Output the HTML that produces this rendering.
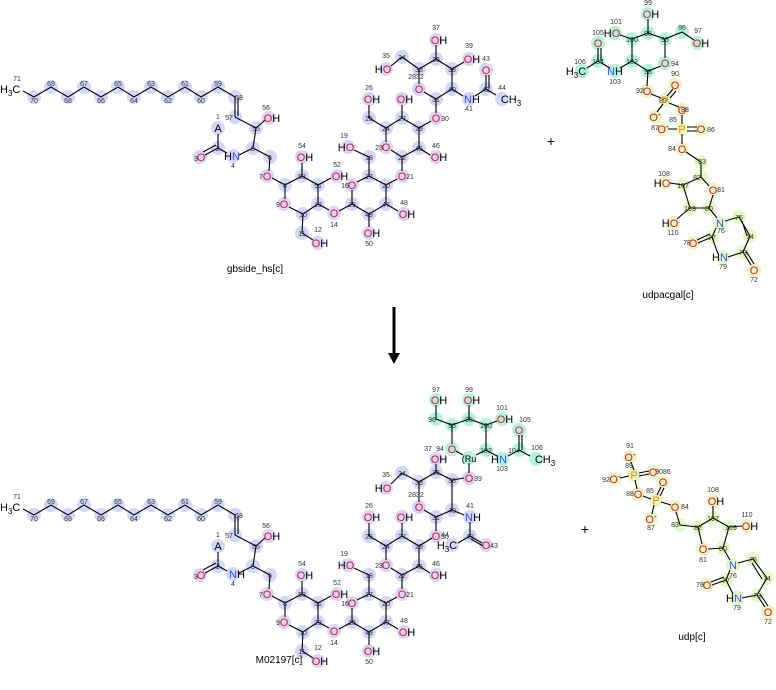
<!DOCTYPE html>
<html><head><meta charset="utf-8"><style>
html,body{margin:0;padding:0;background:#fff;}
svg{display:block;font-family:"Liberation Sans","DejaVu Sans",sans-serif;}
.b{fill:none;stroke:#000;stroke-width:1.1;}
.n{font-size:7px;fill:#333;text-anchor:middle;}
.e{font-size:11px;text-anchor:middle;}
.o{fill:#e8102a;} .N{fill:#3050f8;} .P{fill:#ff8000;} .k{fill:#000;}
.pu circle{fill:#d6d6fb;} .gr circle{fill:#b2f5dd;} .ye circle{fill:#e6f8c4;}
</style></head><body>
<svg width="776" height="690" viewBox="0 0 776 690" xmlns="http://www.w3.org/2000/svg">

<!-- ============ TOP gbside lower part (also copied to bottom) ============ -->
<g id="lowA">
<g class="pu">
<circle cx="34" cy="97" r="7"/><circle cx="51" cy="87" r="7"/><circle cx="68" cy="97" r="7"/><circle cx="84" cy="87" r="7"/><circle cx="101" cy="97" r="7"/><circle cx="118" cy="87" r="7"/><circle cx="134" cy="97" r="7"/><circle cx="151" cy="87" r="7"/><circle cx="168" cy="97" r="7"/><circle cx="185" cy="87" r="7"/><circle cx="201" cy="97" r="7"/><circle cx="218" cy="87" r="7"/><circle cx="235" cy="97" r="7"/><circle cx="235" cy="117" r="7"/>
<circle cx="256" cy="128" r="7"/><circle cx="269" cy="118" r="7"/><circle cx="253" cy="148" r="7"/><circle cx="233" cy="156" r="7"/><circle cx="218" cy="148" r="7"/><circle cx="218" cy="128" r="7"/><circle cx="200" cy="157" r="7"/><circle cx="270" cy="157" r="7"/><circle cx="267" cy="176" r="7"/><circle cx="285" cy="185" r="7"/><circle cx="284" cy="204" r="7"/><circle cx="303" cy="214" r="7"/><circle cx="302" cy="233" r="7"/><circle cx="318" cy="243" r="7"/><circle cx="318" cy="204" r="7"/><circle cx="318" cy="185" r="7"/><circle cx="337" cy="176" r="7"/><circle cx="302" cy="176" r="7"/><circle cx="302" cy="157" r="7"/><circle cx="334" cy="213" r="7"/><circle cx="352" cy="204" r="7"/><circle cx="352" cy="185" r="7"/><circle cx="369" cy="176" r="7"/><circle cx="369" cy="157" r="7"/><circle cx="348" cy="147" r="7"/><circle cx="386" cy="185" r="7"/><circle cx="369" cy="214" r="7"/><circle cx="369" cy="233" r="7"/><circle cx="386" cy="204" r="7"/><circle cx="404" cy="214" r="7"/><circle cx="402" cy="176" r="7"/><circle cx="402" cy="157" r="7"/><circle cx="386" cy="147" r="7"/><circle cx="386" cy="128" r="7"/><circle cx="369" cy="118" r="7"/><circle cx="369" cy="99" r="7"/><circle cx="402" cy="118" r="7"/><circle cx="402" cy="99" r="7"/><circle cx="419" cy="128" r="7"/><circle cx="419" cy="148" r="7"/><circle cx="436" cy="157" r="7"/>
</g>
<path class="b" d="M23 91 L34 97 L51 87 L68 97 L84 87 L101 97 L118 87 L134 97 L151 87 L168 97 L185 87 L201 97 L218 87 L235 97 L235 117 M238 98 L238 116 M235 117 L256 128 L265 120 M256 128 L253 148 L239 155 M227 153 L218 148 L218 134 M218 148 L205 155 M216 145 L203 152 M253 148 L270 157 L269 171 M272 178 L285 185 L285 199 M289 207 L303 214 L302 233 L313 240 M303 214 L318 204 L318 185 L302 176 L285 185 M318 185 L331 178 M302 176 L302 163 M318 204 L329 210 M339 211 L352 204 L352 190 M357 182 L369 176 L369 157 L354 150 M369 176 L386 185 L386 204 L369 214 L352 204 M386 204 L398 211 M369 214 L369 227 M386 185 L397 179 M402 171 L402 157 L391 150 M386 142 L386 128 L369 118 L369 105 M386 128 L402 118 L402 105 M402 118 L419 128 L419 148 L402 157 M419 148 L430 155"/>
<text x="0" y="93" font-size="11" class="k">H<tspan font-size="8" dy="3">3</tspan><tspan dy="-3">C</tspan></text>
<g class="n">
<text x="17" y="81">71</text><text x="34" y="103">70</text><text x="51" y="86">69</text><text x="68" y="103">68</text><text x="84" y="86">67</text><text x="101" y="103">66</text><text x="118" y="86">65</text><text x="134" y="103">64</text><text x="151" y="86">63</text><text x="168" y="103">62</text><text x="185" y="86">61</text><text x="201" y="103">60</text><text x="218" y="86">59</text><text x="239" y="100">58</text><text x="229" y="120">57</text><text x="256" y="131">55</text><text x="266" y="110">56</text><text x="253" y="151">5</text><text x="233" y="168">4</text><text x="218" y="151">2</text><text x="218" y="119">1</text><text x="270" y="160">6</text><text x="285" y="188">8</text><text x="303" y="217">10</text><text x="302" y="236">11</text><text x="318" y="232">12</text><text x="318" y="207">13</text><text x="318" y="188">51</text><text x="337" y="167">52</text><text x="302" y="179">53</text><text x="302" y="148">54</text><text x="334" y="227">14</text><text x="352" y="207">15</text><text x="369" y="179">17</text><text x="369" y="160">18</text><text x="344" y="138">19</text><text x="386" y="188">20</text><text x="369" y="217">49</text><text x="369" y="246">50</text><text x="386" y="207">47</text><text x="404" y="205">48</text><text x="386" y="131">24</text><text x="369" y="121">25</text><text x="369" y="90">26</text><text x="402" y="121">27</text><text x="419" y="131">29</text><text x="419" y="151">45</text><text x="436" y="148">46</text><text x="402" y="160">22</text>
</g>
<g class="e">
<text x="218" y="132" class="k">A</text>
<text x="201" y="161" class="o">O</text><text x="196" y="161" class="n" style="font-size:7px">3</text>
<text x="232" y="160"><tspan class="k">H</tspan><tspan class="N">N</tspan></text>
<text x="272" y="122"><tspan class="o">O</tspan><tspan class="k">H</tspan></text>
<text x="267" y="180" class="o">O</text><text x="261" y="179" class="n">7</text>
<text x="284" y="208" class="o">O</text><text x="278" y="207" class="n">9</text>
<text x="320" y="247"><tspan class="o">O</tspan><tspan class="k">H</tspan></text>
<text x="340" y="180"><tspan class="o">O</tspan><tspan class="k">H</tspan></text>
<text x="305" y="161"><tspan class="o">O</tspan><tspan class="k">H</tspan></text>
<text x="334" y="217" class="o">O</text>
<text x="352" y="189" class="o">O</text><text x="345" y="188" class="n">16</text>
<text x="346" y="151"><tspan class="k">H</tspan><tspan class="o">O</tspan></text>
<text x="407" y="218"><tspan class="o">O</tspan><tspan class="k">H</tspan></text>
<text x="372" y="237"><tspan class="o">O</tspan><tspan class="k">H</tspan></text>
<text x="402" y="180" class="o">O</text><text x="410" y="179" class="n">21</text>
<text x="386" y="151" class="o">O</text><text x="379" y="150" class="n">23</text>
<text x="372" y="103"><tspan class="o">O</tspan><tspan class="k">H</tspan></text>
<text x="405" y="103"><tspan class="o">O</tspan><tspan class="k">H</tspan></text>
<text x="439" y="161"><tspan class="o">O</tspan><tspan class="k">H</tspan></text>
</g>
</g>

<!-- top gbside upper part -->
<g class="pu"><circle cx="436" cy="118" r="7"/><circle cx="436" cy="99" r="7"/><circle cx="419" cy="89" r="7"/><circle cx="419" cy="69" r="7"/><circle cx="402" cy="57" r="7"/><circle cx="386" cy="69" r="7"/><circle cx="436" cy="59" r="7"/><circle cx="436" cy="40" r="7"/><circle cx="452" cy="69" r="7"/><circle cx="469" cy="59" r="7"/><circle cx="452" cy="89" r="7"/><circle cx="469" cy="99" r="7"/><circle cx="486" cy="89" r="7"/><circle cx="486" cy="70" r="7"/><circle cx="502" cy="99" r="7"/></g>
<path class="b" d="M419 128 L431 121 M436 113 L436 99 L424 92 M419 84 L419 69 L402 57 L391 66 M419 69 L436 59 L436 45 M436 59 L452 69 L464 62 M452 69 L452 89 L436 99 M452 89 L463 96 M475 96 L486 89 L486 75 M489 89 L489 75 M486 89 L496 95"/>
<g class="n"><text x="436" y="102">31</text><text x="416" y="79">2832</text><text x="419" y="72">33</text><text x="402" y="60">34</text><text x="386" y="58">35</text><text x="436" y="62">36</text><text x="436" y="30">37</text><text x="452" y="72">38</text><text x="469" y="48">39</text><text x="452" y="92">40</text><text x="469" y="111">41</text><text x="486" y="92">42</text><text x="486" y="61">43</text><text x="502" y="90">44</text></g>
<g class="e">
<text x="436" y="122" class="o">O</text><text x="445" y="121" class="n">30</text>
<text x="419" y="93" class="o">O</text>
<text x="383" y="73"><tspan class="k">H</tspan><tspan class="o">O</tspan></text>
<text x="439" y="44"><tspan class="o">O</tspan><tspan class="k">H</tspan></text>
<text x="472" y="63"><tspan class="o">O</tspan><tspan class="k">H</tspan></text>
<text x="472" y="103"><tspan class="N">N</tspan><tspan class="k">H</tspan></text>
<text x="486" y="74" class="o">O</text>
<text x="511" y="103" class="k">CH<tspan font-size="8" dy="3">3</tspan></text>
</g>
<text x="255" y="272" font-size="10" text-anchor="middle">gbside_hs[c]</text>

<!-- plus and arrow -->
<text x="551" y="146" font-size="14" text-anchor="middle">+</text>
<text x="585" y="534" font-size="14" text-anchor="middle">+</text>
<line x1="394" y1="307" x2="394" y2="355" stroke="#000" stroke-width="3"/>
<polygon points="388,353 400,353 394,364" fill="#000"/>

<!-- ============ udpacgal ============ -->
<g class="gr"><circle cx="648" cy="14" r="7"/><circle cx="648" cy="33" r="7"/><circle cx="615" cy="33" r="7"/><circle cx="632" cy="39" r="7"/><circle cx="665" cy="39" r="7"/><circle cx="682" cy="32" r="7"/><circle cx="698" cy="43" r="7"/><circle cx="665" cy="63" r="7"/><circle cx="648" cy="71" r="7"/><circle cx="632" cy="61" r="7"/><circle cx="615" cy="71" r="7"/><circle cx="598" cy="61" r="7"/><circle cx="598" cy="43" r="7"/><circle cx="582" cy="71" r="7"/></g>
<g class="ye"><circle cx="647" cy="91" r="7"/><circle cx="665" cy="100" r="7"/><circle cx="675" cy="85" r="7"/><circle cx="655" cy="117" r="7"/><circle cx="682" cy="110" r="7"/><circle cx="682" cy="129" r="7"/><circle cx="663" cy="129" r="7"/><circle cx="701" cy="129" r="7"/><circle cx="682" cy="149" r="7"/><circle cx="701" cy="162" r="7"/><circle cx="701" cy="177" r="7"/><circle cx="713" cy="190" r="7"/><circle cx="709" cy="208" r="7"/><circle cx="690" cy="208" r="7"/><circle cx="683" cy="185" r="7"/><circle cx="665" cy="183" r="7"/><circle cx="673" cy="223" r="7"/><circle cx="720" cy="223" r="7"/><circle cx="739" cy="217" r="7"/><circle cx="750" cy="236" r="7"/><circle cx="743" cy="252" r="7"/><circle cx="754" cy="270" r="7"/><circle cx="723" cy="257" r="7"/><circle cx="712" cy="237" r="7"/><circle cx="693" cy="243" r="7"/></g>
<path class="b" d="M648 19 L648 33 L632 39 L620 35 M648 33 L665 39 L682 32 L694 40 M665 39 L665 58 M661 66 L648 71 L632 61 L632 39 M632 61 L620 68 M610 68 L598 61 L598 48 M601 61 L601 48 M598 61 L587 68 M648 71 L647 86 M651 94 L661 98 M667 96 L673 89 M670 98 L676 91 M663 104 L657 112 M669 103 L679 107 M682 115 L682 124 M677 129 L668 129 M687 127 L697 127 M687 131 L697 131 M682 134 L682 144 M686 152 L701 162 L701 177 L709 186 M713 195 L709 208 L690 208 L683 185 L701 177 M683 185 L670 183 M690 208 L677 219 M709 208 L717 218 M725 221 L739 217 L750 236 L743 252 M742 221 L747 236 M743 252 L751 265 M746 251 L754 264 M743 252 L728 257 M718 254 L712 237 L716 228 M712 237 L698 243 M710 234 L697 240"/>
<g class="n"><text x="648" y="5">99</text><text x="648" y="36">98</text><text x="616" y="24">101</text><text x="632" y="42">100</text><text x="665" y="42">95</text><text x="682" y="30">96</text><text x="698" y="33">97</text><text x="675" y="66">94</text><text x="648" y="74">93</text><text x="632" y="64">102</text><text x="615" y="84">103</text><text x="598" y="64">104</text><text x="598" y="35">105</text><text x="580" y="64">106</text><text x="640" y="93">92</text><text x="675" y="76">90</text><text x="663" y="103">89</text><text x="685" y="112">88</text><text x="673" y="122">85</text><text x="655" y="130">87</text><text x="711" y="132">86</text><text x="672" y="151">84</text><text x="702" y="164">83</text><text x="697" y="180">82</text><text x="721" y="192">81</text><text x="709" y="211">80</text><text x="690" y="211">109</text><text x="683" y="188">107</text><text x="664" y="176">108</text><text x="673" y="235">110</text><text x="721" y="233">76</text><text x="739" y="220">75</text><text x="750" y="239">74</text><text x="743" y="255">73</text><text x="754" y="282">72</text><text x="723" y="269">79</text><text x="712" y="240">77</text><text x="687" y="245">78</text></g>
<g class="e">
<text x="651" y="18"><tspan class="o">O</tspan><tspan class="k">H</tspan></text>
<text x="612" y="37"><tspan class="k">H</tspan><tspan class="o">O</tspan></text>
<text x="701" y="47"><tspan class="o">O</tspan><tspan class="k">H</tspan></text>
<text x="665" y="67" class="o">O</text>
<text x="615" y="75"><tspan class="N">N</tspan><tspan class="k">H</tspan></text>
<text x="598" y="47" class="o">O</text>
<text x="576" y="75" class="k">H<tspan font-size="8" dy="3">3</tspan><tspan dy="-3">C</tspan></text>
<text x="647" y="95" class="o">O</text>
<text x="665" y="104" class="P">P</text>
<text x="675" y="89" class="o">O</text>
<text x="655" y="121" class="o">O<tspan font-size="8" dy="-4" class="k">-</tspan></text>
<text x="682" y="114" class="o">O</text>
<text x="682" y="133" class="P">P</text>
<text x="663" y="133" class="o">O<tspan font-size="8" dy="-4" class="k">-</tspan></text>
<text x="701" y="133" class="o">O</text>
<text x="682" y="153" class="o">O</text>
<text x="713" y="194" class="o">O</text>
<text x="662" y="187"><tspan class="k">H</tspan><tspan class="o">O</tspan></text>
<text x="670" y="227"><tspan class="k">H</tspan><tspan class="o">O</tspan></text>
<text x="720" y="227" class="N">N</text>
<text x="754" y="274" class="o">O</text>
<text x="720" y="261"><tspan class="k">H</tspan><tspan class="N">N</tspan></text>
<text x="693" y="247" class="o">O</text>
</g>
<text x="668" y="298" font-size="10" text-anchor="middle">udpacgal[c]</text>

<!-- ============ bottom M02197 ============ -->
<g transform="translate(0,418)">
<g class="pu">
<circle cx="34" cy="97" r="7"/><circle cx="51" cy="87" r="7"/><circle cx="68" cy="97" r="7"/><circle cx="84" cy="87" r="7"/><circle cx="101" cy="97" r="7"/><circle cx="118" cy="87" r="7"/><circle cx="134" cy="97" r="7"/><circle cx="151" cy="87" r="7"/><circle cx="168" cy="97" r="7"/><circle cx="185" cy="87" r="7"/><circle cx="201" cy="97" r="7"/><circle cx="218" cy="87" r="7"/><circle cx="235" cy="97" r="7"/><circle cx="235" cy="117" r="7"/>
<circle cx="256" cy="128" r="7"/><circle cx="269" cy="118" r="7"/><circle cx="253" cy="148" r="7"/><circle cx="233" cy="156" r="7"/><circle cx="218" cy="148" r="7"/><circle cx="218" cy="128" r="7"/><circle cx="200" cy="157" r="7"/><circle cx="270" cy="157" r="7"/><circle cx="267" cy="176" r="7"/><circle cx="285" cy="185" r="7"/><circle cx="284" cy="204" r="7"/><circle cx="303" cy="214" r="7"/><circle cx="302" cy="233" r="7"/><circle cx="318" cy="243" r="7"/><circle cx="318" cy="204" r="7"/><circle cx="318" cy="185" r="7"/><circle cx="337" cy="176" r="7"/><circle cx="302" cy="176" r="7"/><circle cx="302" cy="157" r="7"/><circle cx="334" cy="213" r="7"/><circle cx="352" cy="204" r="7"/><circle cx="352" cy="185" r="7"/><circle cx="369" cy="176" r="7"/><circle cx="369" cy="157" r="7"/><circle cx="348" cy="147" r="7"/><circle cx="386" cy="185" r="7"/><circle cx="369" cy="214" r="7"/><circle cx="369" cy="233" r="7"/><circle cx="386" cy="204" r="7"/><circle cx="404" cy="214" r="7"/><circle cx="402" cy="176" r="7"/><circle cx="402" cy="157" r="7"/><circle cx="386" cy="147" r="7"/><circle cx="386" cy="128" r="7"/><circle cx="369" cy="118" r="7"/><circle cx="369" cy="99" r="7"/><circle cx="402" cy="118" r="7"/><circle cx="402" cy="99" r="7"/><circle cx="419" cy="128" r="7"/><circle cx="419" cy="148" r="7"/><circle cx="436" cy="157" r="7"/>
</g>
<path class="b" d="M23 91 L34 97 L51 87 L68 97 L84 87 L101 97 L118 87 L134 97 L151 87 L168 97 L185 87 L201 97 L218 87 L235 97 L235 117 M238 98 L238 116 M235 117 L256 128 L265 120 M256 128 L253 148 L239 155 M227 153 L218 148 L218 134 M218 148 L205 155 M216 145 L203 152 M253 148 L270 157 L269 171 M272 178 L285 185 L285 199 M289 207 L303 214 L302 233 L313 240 M303 214 L318 204 L318 185 L302 176 L285 185 M318 185 L331 178 M302 176 L302 163 M318 204 L329 210 M339 211 L352 204 L352 190 M357 182 L369 176 L369 157 L354 150 M369 176 L386 185 L386 204 L369 214 L352 204 M386 204 L398 211 M369 214 L369 227 M386 185 L397 179 M402 171 L402 157 L391 150 M386 142 L386 128 L369 118 L369 105 M386 128 L402 118 L402 105 M402 118 L419 128 L419 148 L402 157 M419 148 L430 155"/>
<text x="0" y="93" font-size="11" class="k">H<tspan font-size="8" dy="3">3</tspan><tspan dy="-3">C</tspan></text>
<g class="n">
<text x="17" y="81">71</text><text x="34" y="103">70</text><text x="51" y="86">69</text><text x="68" y="103">68</text><text x="84" y="86">67</text><text x="101" y="103">66</text><text x="118" y="86">65</text><text x="134" y="103">64</text><text x="151" y="86">63</text><text x="168" y="103">62</text><text x="185" y="86">61</text><text x="201" y="103">60</text><text x="218" y="86">59</text><text x="239" y="100">58</text><text x="229" y="120">57</text><text x="256" y="131">55</text><text x="266" y="110">56</text><text x="253" y="151">5</text><text x="233" y="168">4</text><text x="218" y="151">2</text><text x="218" y="119">1</text><text x="270" y="160">6</text><text x="285" y="188">8</text><text x="303" y="217">10</text><text x="302" y="236">11</text><text x="318" y="232">12</text><text x="318" y="207">13</text><text x="318" y="188">51</text><text x="337" y="167">52</text><text x="302" y="179">53</text><text x="302" y="148">54</text><text x="334" y="227">14</text><text x="352" y="207">15</text><text x="369" y="179">17</text><text x="369" y="160">18</text><text x="344" y="138">19</text><text x="386" y="188">20</text><text x="369" y="217">49</text><text x="369" y="246">50</text><text x="386" y="207">47</text><text x="404" y="205">48</text><text x="386" y="131">24</text><text x="369" y="121">25</text><text x="369" y="90">26</text><text x="402" y="121">27</text><text x="419" y="131">29</text><text x="419" y="151">45</text><text x="436" y="148">46</text><text x="402" y="160">22</text>
</g>
<g class="e">
<text x="218" y="132" class="k">A</text>
<text x="201" y="161" class="o">O</text><text x="196" y="161" class="n">3</text>
<text x="237" y="160"><tspan class="N">N</tspan><tspan class="k">H</tspan></text>
<text x="272" y="122"><tspan class="o">O</tspan><tspan class="k">H</tspan></text>
<text x="267" y="180" class="o">O</text><text x="261" y="179" class="n">7</text>
<text x="284" y="208" class="o">O</text><text x="278" y="207" class="n">9</text>
<text x="320" y="247"><tspan class="o">O</tspan><tspan class="k">H</tspan></text>
<text x="340" y="180"><tspan class="o">O</tspan><tspan class="k">H</tspan></text>
<text x="305" y="161"><tspan class="o">O</tspan><tspan class="k">H</tspan></text>
<text x="334" y="217" class="o">O</text>
<text x="352" y="189" class="o">O</text><text x="345" y="188" class="n">16</text>
<text x="346" y="151"><tspan class="k">H</tspan><tspan class="o">O</tspan></text>
<text x="407" y="218"><tspan class="o">O</tspan><tspan class="k">H</tspan></text>
<text x="372" y="237"><tspan class="o">O</tspan><tspan class="k">H</tspan></text>
<text x="402" y="180" class="o">O</text><text x="410" y="179" class="n">21</text>
<text x="386" y="151" class="o">O</text><text x="379" y="150" class="n">23</text>
<text x="372" y="103"><tspan class="o">O</tspan><tspan class="k">H</tspan></text>
<text x="405" y="103"><tspan class="o">O</tspan><tspan class="k">H</tspan></text>
<text x="439" y="161"><tspan class="o">O</tspan><tspan class="k">H</tspan></text>
</g>
</g>

<!-- bottom upper part -->
<g class="pu"><circle cx="436" cy="536" r="7"/><circle cx="436" cy="517" r="7"/><circle cx="419" cy="507" r="7"/><circle cx="419" cy="482" r="7"/><circle cx="402" cy="473" r="7"/><circle cx="386" cy="488" r="7"/><circle cx="436" cy="472" r="7"/><circle cx="436" cy="459" r="7"/><circle cx="452" cy="480" r="7"/><circle cx="469" cy="478" r="7"/><circle cx="452" cy="510" r="7"/><circle cx="470" cy="517" r="7"/><circle cx="470" cy="536" r="7"/><circle cx="486" cy="545" r="7"/><circle cx="452" cy="545" r="7"/></g>
<g class="gr"><circle cx="469" cy="458" r="7"/><circle cx="452" cy="449" r="7"/><circle cx="452" cy="425" r="7"/><circle cx="436" cy="419" r="7"/><circle cx="436" cy="400" r="7"/><circle cx="469" cy="419" r="7"/><circle cx="469" cy="400" r="7"/><circle cx="486" cy="425" r="7"/><circle cx="502" cy="419" r="7"/><circle cx="486" cy="450" r="7"/><circle cx="502" cy="459" r="7"/><circle cx="519" cy="450" r="7"/><circle cx="519" cy="430" r="7"/><circle cx="536" cy="459" r="7"/></g>
<path class="b" d="M419 546 L432 538 M436 531 L436 517 L424 510 M419 502 L419 482 L402 473 L391 484 M419 482 L436 472 L436 464 M436 472 L452 480 L464 478 M452 480 L452 510 L436 517 M452 510 L464 515 M470 522 L470 536 L482 543 M471 539 L483 546 M470 536 L458 543 M469 473 L469 463 M463 455 L456 451 M476 455 L486 450 M452 444 L452 425 L436 419 L436 405 M452 425 L469 419 L469 405 M469 419 L486 425 L497 421 M486 425 L486 450 L497 456 M508 456 L519 450 L519 435 M522 450 L522 435 M519 450 L530 456"/>
<g class="n"><text x="436" y="520">31</text><text x="416" y="497">2832</text><text x="419" y="485">33</text><text x="402" y="476">34</text><text x="386" y="477">35</text><text x="436" y="475">36</text><text x="428" y="451">37</text><text x="452" y="483">38</text><text x="478" y="481">39</text><text x="452" y="513">40</text><text x="470" y="508">41</text><text x="470" y="539">42</text><text x="494" y="548">43</text><text x="445" y="537">44</text><text x="440" y="451">94</text><text x="452" y="428">95</text><text x="432" y="422">96</text><text x="436" y="392">97</text><text x="469" y="422">98</text><text x="469" y="392">99</text><text x="486" y="428">100</text><text x="502" y="410">101</text><text x="486" y="453">102</text><text x="502" y="471">103</text><text x="514" y="453">104</text><text x="525" y="422">105</text><text x="537" y="450">106</text></g>
<g class="e">
<text x="436" y="540" class="o">O</text><text x="445" y="539" class="n">30</text>
<text x="419" y="386" class="o" dy="125">O</text>
<text x="383" y="492"><tspan class="k">H</tspan><tspan class="o">O</tspan></text>
<text x="439" y="463"><tspan class="o">O</tspan><tspan class="k">H</tspan></text>
<text x="469" y="482" class="o">O</text>
<text x="473" y="521"><tspan class="N">N</tspan><tspan class="k">H</tspan></text>
<text x="486" y="549" class="o">O</text>
<text x="447" y="549" class="k">H<tspan font-size="8" dy="3">3</tspan><tspan dy="-3">C</tspan></text>
<text x="469" y="462" class="k" font-size="9">(Ru</text>
<text x="452" y="453" class="o">O</text>
<text x="439" y="404"><tspan class="o">O</tspan><tspan class="k">H</tspan></text>
<text x="472" y="404"><tspan class="o">O</tspan><tspan class="k">H</tspan></text>
<text x="505" y="423"><tspan class="o">O</tspan><tspan class="k">H</tspan></text>
<text x="499" y="463"><tspan class="k">H</tspan><tspan class="N">N</tspan></text>
<text x="519" y="434" class="o">O</text>
<text x="545" y="463" class="k">CH<tspan font-size="8" dy="3">3</tspan></text>
</g>
<text x="279" y="663" font-size="10" text-anchor="middle">M02197[c]</text>

<!-- ============ udp ============ -->
<g class="ye"><circle cx="630" cy="457" r="7"/><circle cx="634" cy="475" r="7"/><circle cx="615" cy="479" r="7"/><circle cx="653" cy="472" r="7"/><circle cx="638" cy="494" r="7"/><circle cx="656" cy="500" r="7"/><circle cx="663" cy="482" r="7"/><circle cx="651" cy="519" r="7"/><circle cx="675" cy="507" r="7"/><circle cx="680" cy="525" r="7"/><circle cx="698" cy="527" r="7"/><circle cx="703" cy="549" r="7"/><circle cx="723" cy="548" r="7"/><circle cx="729" cy="527" r="7"/><circle cx="713" cy="518" r="7"/><circle cx="713" cy="501" r="7"/><circle cx="747" cy="526" r="7"/><circle cx="733" cy="565" r="7"/><circle cx="753" cy="559" r="7"/><circle cx="767" cy="578" r="7"/><circle cx="757" cy="595" r="7"/><circle cx="768" cy="612" r="7"/><circle cx="737" cy="598" r="7"/><circle cx="726" cy="580" r="7"/><circle cx="707" cy="585" r="7"/></g>
<path class="b" d="M631 462 L634 470 M629 476 L620 478 M639 473 L649 471 M639 476 L649 474 M635 480 L637 489 M643 496 L651 499 M657 495 L661 487 M660 496 L664 488 M654 505 L652 514 M661 502 L671 505 M676 512 L680 525 L698 527 L702 544 M708 549 L723 548 L729 527 L713 518 L698 527 M713 518 L713 506 M729 527 L742 526 M723 548 L730 560 M738 563 L753 559 L767 578 L757 595 M752 563 L762 579 M757 595 L765 607 M760 594 L768 606 M757 595 L742 598 M733 594 L726 580 L730 570 M726 580 L712 585 M724 577 L711 582"/>
<g class="n"><text x="630" y="448">91</text><text x="629" y="468">89</text><text x="606" y="482">92</text><text x="663" y="474">9086</text><text x="630" y="496">88</text><text x="650" y="493">85</text><text x="651" y="530">87</text><text x="685" y="509">84</text><text x="675" y="527">83</text><text x="698" y="530">82</text><text x="703" y="562">81</text><text x="723" y="551">80</text><text x="731" y="530">109</text><text x="713" y="521">107</text><text x="713" y="492">108</text><text x="747" y="517">110</text><text x="733" y="578">76</text><text x="753" y="562">75</text><text x="767" y="581">74</text><text x="757" y="598">73</text><text x="768" y="624">72</text><text x="737" y="610">79</text><text x="726" y="583">77</text><text x="700" y="587">78</text></g>
<g class="e">
<text x="630" y="461" class="o">O<tspan font-size="8" dy="-4" class="k">-</tspan></text>
<text x="634" y="479" class="P">P</text>
<text x="615" y="483" class="o">O<tspan font-size="8" dy="-4" class="k">-</tspan></text>
<text x="653" y="476" class="o">O</text>
<text x="638" y="498" class="o">O</text>
<text x="656" y="504" class="P">P</text>
<text x="663" y="486" class="o">O</text>
<text x="651" y="523" class="o">O<tspan font-size="8" dy="-4" class="k">-</tspan></text>
<text x="675" y="511" class="o">O</text>
<text x="703" y="553" class="o">O</text>
<text x="716" y="505"><tspan class="o">O</tspan><tspan class="k">H</tspan></text>
<text x="750" y="530"><tspan class="o">O</tspan><tspan class="k">H</tspan></text>
<text x="733" y="569" class="N">N</text>
<text x="768" y="616" class="o">O</text>
<text x="734" y="602"><tspan class="k">H</tspan><tspan class="N">N</tspan></text>
<text x="707" y="589" class="o">O</text>
</g>
<text x="692" y="640" font-size="10" text-anchor="middle">udp[c]</text>
</svg>
</body></html>
